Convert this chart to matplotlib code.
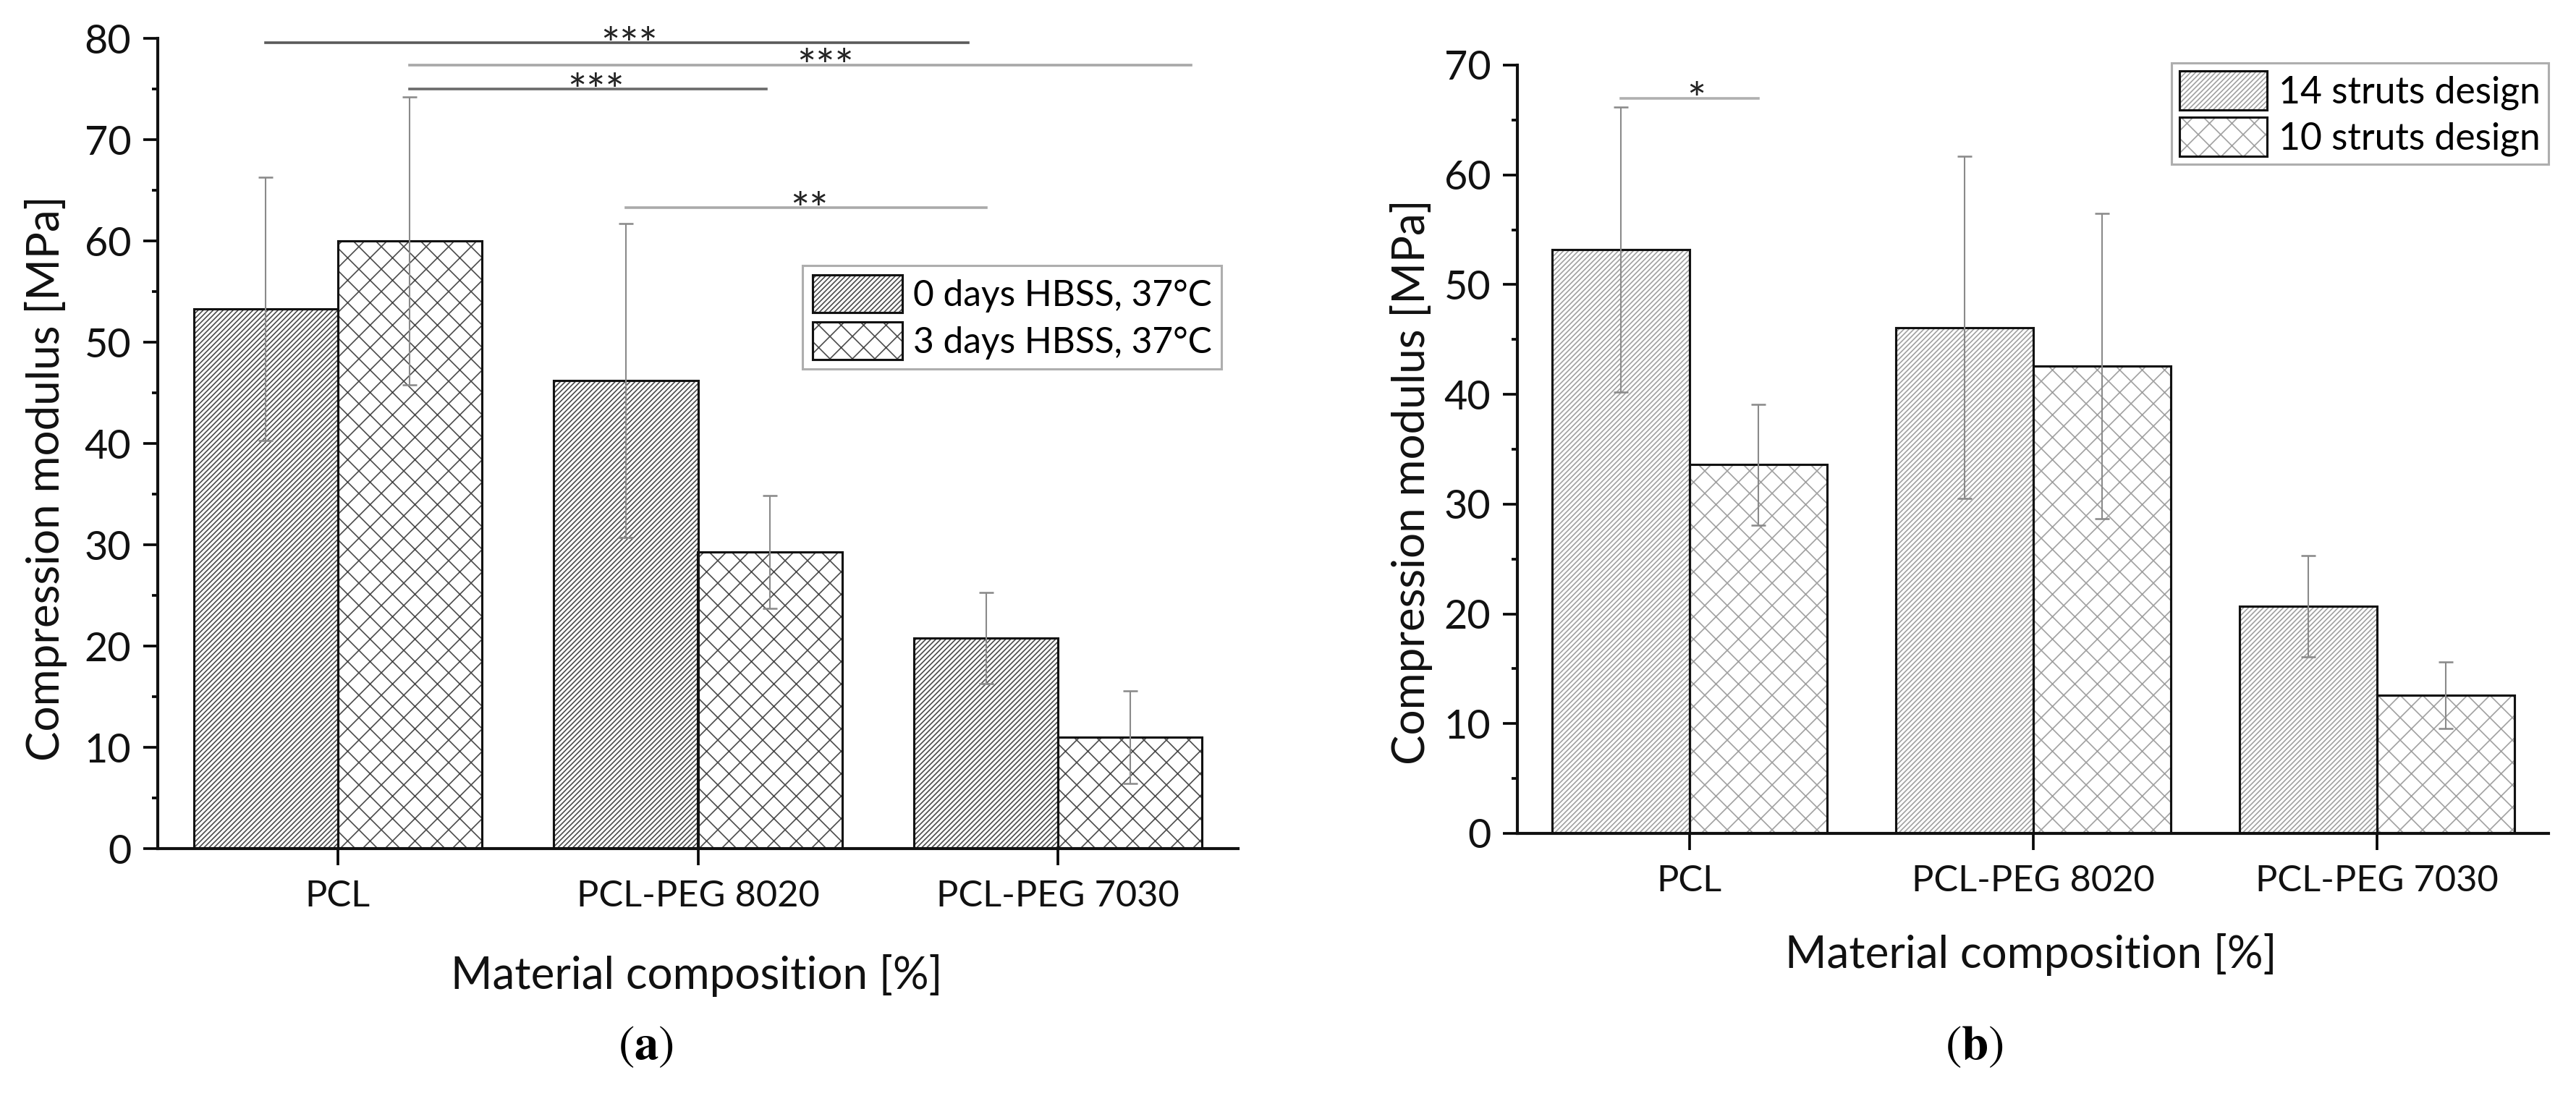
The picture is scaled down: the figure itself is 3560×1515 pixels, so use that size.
import numpy as np
import matplotlib
matplotlib.use('Agg')
import matplotlib.pyplot as plt
from matplotlib.ticker import MultipleLocator

# Données
categories = ['PCL', 'PCL-PEG 8020', 'PCL-PEG 7030']

# (a) 0 jours / 3 jours HBSS
mod_0d = [53.3, 46.2, 20.8]
err_0d = [13.0, 15.5, 4.5]
mod_3d = [60.0, 29.3, 11.0]
err_3d = [14.2, 5.6, 4.55]
labels_a = ['0 days HBSS, 37°C', '3 days HBSS, 37°C']

# (b) 14 / 10 struts
mod_14 = [53.2, 46.1, 20.7]
err_14 = [13.0, 15.6, 4.6]
mod_10 = [33.6, 42.6, 12.6]
err_10 = [5.5, 13.9, 3.05]
labels_b = ['14 struts design', '10 struts design']

# Barres de significativité (x début, x fin, hauteur, texte, x texte)
sig_a_x0 = [-0.2, 0.2, 0.2, 0.8]
sig_a_x1 = [1.75, 2.37, 1.19, 1.8]
sig_a_y = [79.6, 77.4, 75.0, 63.3]
sig_a_txt = ['***', '***', '***', '**']
sig_a_tx = [0.81, 1.354, 0.716, 1.31]
sig_a_col = ['#5a5a5a', '#a8a8a8', '#6a6a6a', '#aaaaaa']

sig_b_x0 = [-0.2]
sig_b_x1 = [0.2]
sig_b_y = [67.0]
sig_b_txt = ['*']
sig_b_tx = [0.02]
sig_b_col = ['#b0b0b0']

DPI = 372
W, H = 3560, 1515
plt.rcParams['font.family'] = ['Lato', 'DejaVu Sans']
plt.rcParams['mathtext.fontset'] = 'stix'
plt.rcParams['hatch.linewidth'] = 0.32

fig = plt.figure(figsize=(W / DPI, H / DPI), dpi=DPI)
ax1 = fig.add_axes([218 / W, 1 - 1173 / H, 1493 / W, (1173 - 53.3) / H])
ax2 = fig.add_axes([2097 / W, 1 - 1152 / H, 1425 / W, (1152 - 90) / H])


def panneau(ax, v1, e1, v2, e2, labels, hcol, h1, h2, ymax):
    x = np.arange(len(categories))
    w = 0.4
    # hachures (couleur grise) puis contour noir
    b1 = ax.bar(x - w / 2, v1, w, color='white', edgecolor=hcol, hatch=h1, linewidth=0, zorder=2)
    b2 = ax.bar(x + w / 2, v2, w, color='white', edgecolor=hcol, hatch=h2, linewidth=0, zorder=2)
    o1 = ax.bar(x - w / 2, v1, w, fill=False, edgecolor='#111111', linewidth=0.6, zorder=3)
    o2 = ax.bar(x + w / 2, v2, w, fill=False, edgecolor='#111111', linewidth=0.6, zorder=3)
    for xx, vv, ee in [(x - w / 2, v1, e1), (x + w / 2, v2, e2)]:
        ax.errorbar(xx, vv, yerr=ee, fmt='none', ecolor='#8a8a8a', elinewidth=0.4,
                    capsize=2, capthick=0.5, zorder=4)
    ax.set_xlim(-0.5, 2.5)
    ax.set_ylim(0, ymax)
    ax.set_xticks(x)
    ax.set_xticklabels(categories, fontsize=9.8, color='#111111')
    ax.yaxis.set_major_locator(MultipleLocator(10))
    ax.yaxis.set_minor_locator(MultipleLocator(5))
    ax.tick_params(axis='y', which='major', labelsize=10.8, length=3.9, width=0.7,
                   direction='out', pad=3.2, labelcolor='#111111')
    ax.tick_params(axis='y', which='minor', length=1.6, width=0.7, direction='out')
    ax.tick_params(axis='x', which='major', length=4.4, width=0.7, direction='out', pad=4)
    ax.xaxis.set_minor_locator(plt.NullLocator())
    for s in ['top', 'right']:
        ax.spines[s].set_visible(False)
    for s in ['left', 'bottom']:
        ax.spines[s].set_linewidth(0.8)
        ax.spines[s].set_color('#111111')
    ax.set_ylabel('Compression modulus [MPa]', fontsize=12, color='#111111')
    ax.set_xlabel('Material composition [%]', fontsize=12, color='#111111')
    ax.set_facecolor('none')
    return [(b1[0], o1[0]), (b2[0], o2[0])]


def etoiles(ax, x0, x1, y, txt, tx, col):
    for a, b, yy, t, xt, c in zip(x0, x1, y, txt, tx, col):
        ax.plot([a, b], [yy, yy], color=c, linewidth=0.7, clip_on=False, zorder=5)
        ax.annotate(t, (xt, yy), xytext=(0, -4.6), textcoords='offset points',
                    ha='center', va='baseline', fontsize=12, color='#222222',
                    annotation_clip=False)


# (a)
hd_a = panneau(ax1, mod_0d, err_0d, mod_3d, err_3d, labels_a, '#4a4a4a', '/' * 18, 'xxxx', 80)
etoiles(ax1, sig_a_x0, sig_a_x1, sig_a_y, sig_a_txt, sig_a_tx, sig_a_col)
ax1.yaxis.set_label_coords(-0.084, 0.457)
ax1.xaxis.set_label_coords(0.499, -0.13)
leg1 = ax1.legend(hd_a, labels_a, loc='upper left', bbox_to_anchor=(0.597, 0.72),
                  fontsize=9.6, frameon=True, fancybox=False, handlelength=2.5,
                  handleheight=1.22, handletextpad=0.3, labelspacing=0.27,
                  borderpad=0.27, borderaxespad=0)
leg1.get_frame().set_edgecolor('#9a9a9a')
leg1.get_frame().set_linewidth(0.6)

# (b)
hd_b = panneau(ax2, mod_14, err_14, mod_10, err_10, labels_b, '#a0a0a0', '/' * 18, 'xxxx', 70)
etoiles(ax2, sig_b_x0, sig_b_x1, sig_b_y, sig_b_txt, sig_b_tx, sig_b_col)
ax2.yaxis.set_label_coords(-0.082, 0.457)
ax2.xaxis.set_label_coords(0.498, -0.13)
leg2 = ax2.legend(hd_b, labels_b, loc='upper right', bbox_to_anchor=(1.0, 1.003),
                  fontsize=10, frameon=True, fancybox=False, handlelength=2.34,
                  handleheight=1.22, handletextpad=0.3, labelspacing=0.2,
                  borderpad=0.22, borderaxespad=0)
leg2.get_frame().set_edgecolor('#9a9a9a')
leg2.get_frame().set_linewidth(0.6)

fig.text(893 / W, 1 - 1447 / H, r'$(\mathbf{a})$', ha='center', va='center', fontsize=13)
fig.text(2728 / W, 1 - 1447 / H, r'$(\mathbf{b})$', ha='center', va='center', fontsize=13)

fig.savefig('out.png', dpi=DPI, facecolor='white')
